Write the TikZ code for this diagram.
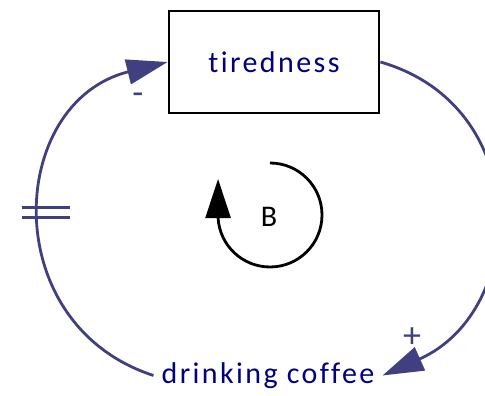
\documentclass[tikz,border=0pt]{standalone}
\usepackage{fontspec}
\setmainfont{Carlito}
\usetikzlibrary{arrows.meta}

\begin{document}
\begin{tikzpicture}[x=1pt,y=1pt,
    varname/.style={font=\fontsize{30}{35}\selectfont\addfontfeatures{LetterSpace=8,Ligatures={CommonOff,RareOff}}, text=varblue, inner sep=8pt},
    link/.style={draw=linkblue, line width=2.8pt, -{Triangle[length=41pt,width=25pt]}},
    polarity/.style={font=\fontsize{36}{40}\selectfont, text=linkblue, inner sep=1pt}]
    % Define colors
    \definecolor{varblue}{RGB}{0,0,128}
    \definecolor{linkblue}{RGB}{64,64,128}

    % Frame
    \useasboundingbox (0,0) rectangle (485,396);
    \clip (0,0) rectangle (485,396);

    % Stock
    \node[varname, draw=black, line width=2.8pt, minimum width=210pt, minimum height=102pt] (tired) at (274,334) {tiredness};

    % Flow variable
    \node[varname] (coffee) at (268,20.5) {drinking coffee};

    % Links
    \draw[link] (coffee.west) to[out=162, in=194, looseness=1.35] coordinate[pos=0.5] (dly) (tired.west);
    \draw[link] (tired.east) to[out=-16, in=24, looseness=1.3] (coffee.east);

    % Delay mark
    \draw[linkblue, line width=2.8pt] ([shift={(-19,7)}]dly) -- ([shift={(29,7)}]dly)
        ([shift={(-19,-3)}]dly) -- ([shift={(29,-3)}]dly);

    % Polarities
    \node[polarity] (neg) at (138,297) {-};
    \node[polarity] (pos) at (412,58) {+};

    % Loop marker
    \node[font=\fontsize{30}{35}\selectfont] (bal) at (269,179) {B};
    \coordinate (loopc) at (270,181);
    \draw[black, line width=2.8pt, -{Triangle[length=39pt,width=25pt]}]
        ([yshift=52pt]loopc) arc[start angle=90, end angle=-177, radius=52pt] -- ++(0,38.7);
\end{tikzpicture}
\end{document}
